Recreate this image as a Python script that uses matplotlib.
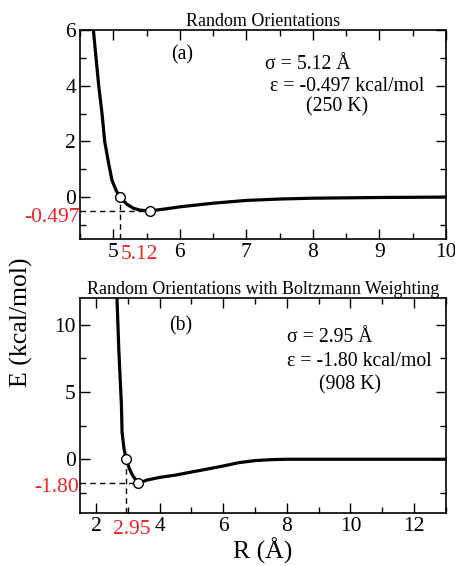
import matplotlib
matplotlib.use("Agg")
import matplotlib.pyplot as plt
from matplotlib.ticker import MultipleLocator

plt.rcParams['font.family'] = ['Liberation Serif', 'DejaVu Serif']
plt.rcParams['mathtext.fontset'] = 'stix'

# Panel (a) data
r_a = [4.70, 4.74, 4.78, 4.83, 4.87, 4.93, 4.98, 5.04, 5.10, 5.2, 5.3, 5.4, 5.55, 5.8, 6.0, 6.5, 7.0, 7.5, 8.0, 9.0, 10.0]
e_a = [6.0, 5.0, 4.0, 3.0, 2.0, 1.2, 0.6, 0.25, 0.0, -0.25, -0.40, -0.47, -0.497, -0.42, -0.35, -0.22, -0.12, -0.07, -0.04, -0.015, 0.0]
sigma_a, rmin_a, eps_a = 5.10, 5.55, -0.497

# Panel (b) data
r_b = [2.66, 2.69, 2.72, 2.76, 2.80, 2.82, 2.88, 2.95, 3.05, 3.15, 3.33, 3.6, 4.0, 4.5, 5.0, 5.5, 6.0, 6.5, 7.0, 7.5, 8.0, 10.0, 13.0]
e_b = [12.0, 10.0, 8.0, 6.0, 4.0, 2.0, 0.8, 0.0, -0.7, -1.2, -1.80, -1.55, -1.35, -1.18, -0.95, -0.73, -0.5, -0.25, -0.1, -0.03, 0.0, 0.0, 0.0]
sigma_b, rmin_b, eps_b = 2.95, 3.33, -1.80

fig = plt.figure(figsize=(4.55, 5.66), dpi=100)
ax1 = fig.add_axes([0.176, 0.578, 0.804, 0.369])
ax2 = fig.add_axes([0.176, 0.0936, 0.804, 0.380])

TICK_FS = 15.5

def style(ax, xmaj, xmin, ymaj, ymin):
    ax.xaxis.set_major_locator(MultipleLocator(xmaj))
    ax.xaxis.set_minor_locator(MultipleLocator(xmin))
    ax.yaxis.set_major_locator(MultipleLocator(ymaj))
    ax.yaxis.set_minor_locator(MultipleLocator(ymin))
    ax.tick_params(which='both', direction='in', top=True, right=True, labelsize=TICK_FS, width=1.0)
    ax.tick_params(which='major', length=7, pad=3)
    ax.tick_params(which='minor', length=4)
    for s in ax.spines.values():
        s.set_linewidth(1.2)

def panel(ax, r, e, sigma, rmin, eps, xlim, ylim):
    ax.plot(r, e, color='black', lw=2.3, zorder=3)
    ax.plot([xlim[0], rmin], [eps, eps], color='black', lw=1.0, ls=(0, (4, 3)), zorder=2)
    ax.plot([sigma, sigma], [ylim[0], 0], color='black', lw=1.0, ls=(0, (4, 3)), zorder=2)
    ax.plot([sigma, rmin], [0, eps], 'o', ms=7, mfc='white', mec='black', mew=1.0, zorder=4)
    ax.set_xlim(*xlim)
    ax.set_ylim(*ylim)

panel(ax1, r_a, e_a, sigma_a, rmin_a, eps_a, (4.5, 10), (-1.5, 6))
style(ax1, 1, 0.5, 2, 1)
panel(ax2, r_b, e_b, sigma_b, rmin_b, eps_b, (1.5, 13), (-4, 12))
style(ax2, 2, 1, 5, 2.5)

ax1.set_title('Random Orientations', fontsize=13, pad=3)
ax2.set_title('Random Orientations with Boltzmann Weighting', fontsize=13, pad=3)

fs = 14.2
ax1.text(6.04, 5.1, '(a)', fontsize=fs, ha='center', va='center')
ax1.text(7.28, 4.75, 'σ = 5.12 Å', fontsize=fs, ha='left', va='center')
ax1.text(7.35, 3.96, 'ε = -0.497 kcal/mol', fontsize=fs, ha='left', va='center')
ax1.text(7.90, 3.24, '(250 K)', fontsize=fs, ha='left', va='center')

ax2.text(4.67, 9.95, '(b)', fontsize=fs, ha='center', va='center')
ax2.text(7.99, 9.08, 'σ = 2.95 Å', fontsize=fs, ha='left', va='center')
ax2.text(7.99, 7.3, 'ε = -1.80 kcal/mol', fontsize=fs, ha='left', va='center')
ax2.text(9.0, 5.5, '(908 K)', fontsize=fs, ha='left', va='center')

red = '#ee2222'
ax1.text(-0.002, -0.75, '-0.497', color=red, fontsize=TICK_FS, ha='right', va='center',
         transform=ax1.get_yaxis_transform())
ax1.text(5.39, -0.075, '5.12', color=red, fontsize=TICK_FS, ha='center', va='center',
         transform=ax1.get_xaxis_transform())
ax2.text(-0.002, -2.13, '-1.80', color=red, fontsize=TICK_FS, ha='right', va='center',
         transform=ax2.get_yaxis_transform())
ax2.text(3.12, -0.075, '2.95', color=red, fontsize=TICK_FS, ha='center', va='center',
         transform=ax2.get_xaxis_transform())

fig.text(0.048, 0.431, 'E (kcal/mol)', rotation=90, fontsize=18.5, ha='center', va='center')
fig.text(0.578, 0.003, 'R (Å)', fontsize=18.5, ha='center', va='bottom')

fig.savefig('out.png', dpi=100)
